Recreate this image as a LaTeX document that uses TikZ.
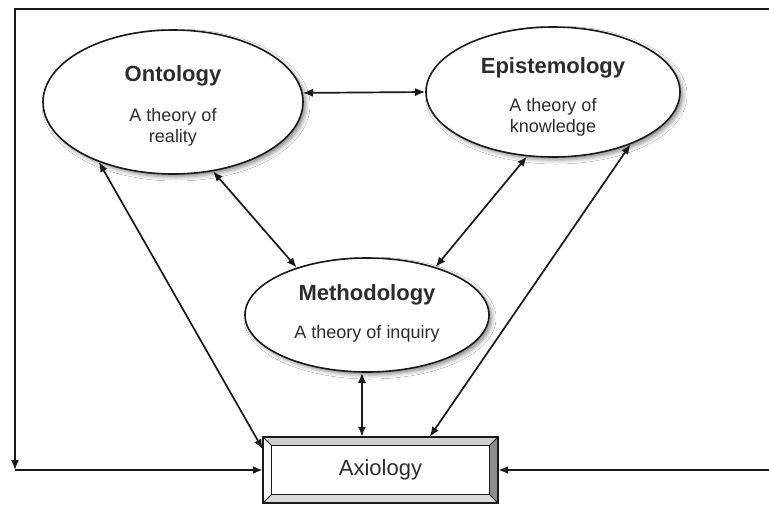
\documentclass[tikz,border=0pt]{standalone}
\usepackage{fontspec}
\setmainfont{Liberation Sans}
\usetikzlibrary{shapes.geometric,shadows.blur,arrows.meta,calc}
\definecolor{ink}{HTML}{1A1A1A}
\definecolor{txt}{HTML}{2C2C2C}
\definecolor{bevtop}{HTML}{CFCFCF}
\definecolor{bevbot}{HTML}{DADADA}
\definecolor{bevright}{HTML}{8E8E8E}
\begin{document}
\begin{tikzpicture}[x=1pt,y=-1pt,
  line/.style={draw=ink, line width=1.7pt},
  tip/.style={-{Latex[length=10pt,width=8pt]}},
  both/.style={{Latex[length=10pt,width=8pt]}-{Latex[length=10pt,width=8pt]}},
  oval/.style={ellipse, draw=ink, line width=1.6pt, fill=white, inner sep=0pt,
    blur shadow={shadow xshift=3pt, shadow yshift=-3pt, shadow blur radius=4pt, shadow opacity=45}},
  title/.style={font=\fontsize{22}{24}\selectfont\bfseries, text=txt, inner sep=0pt},
  sub/.style={font=\fontsize{18}{21}\selectfont, text=txt, align=center, inner sep=0pt},
  boxlabel/.style={font=\fontsize{22}{24}\selectfont, text=txt, inner sep=0pt}
]
\useasboundingbox (0,0) rectangle (769,507);
\fill[white] (0,0) rectangle (769,507);

% the three theories
\node[oval, minimum width=260pt, minimum height=144pt] (ont) at (173,102) {};
\node[title] (ontT) at (173,76) {Ontology};
\node[sub] (ontS) at (173,127) {A theory of\\reality};

\node[oval, minimum width=254pt, minimum height=130pt] (epi) at (553,92) {};
\node[title] (epiT) at (553,68) {Epistemology};
\node[sub] (epiS) at (553,117) {A theory of\\knowledge};

\node[oval, minimum width=244pt, minimum height=114pt] (meth) at (367,315) {};
\node[title] (methT) at (367,295) {Methodology};
\node[sub] (methS) at (367,334) {A theory of inquiry};

% bevelled Axiology box
\node[minimum width=235pt, minimum height=66pt, inner sep=0pt] (axi) at (380.5,470) {};
\coordinate (itl) at ($(axi.north west)+(9,9)$);
\coordinate (itr) at ($(axi.north east)+(-9,9)$);
\coordinate (ibr) at ($(axi.south east)+(-9,-9)$);
\coordinate (ibl) at ($(axi.south west)+(9,-9)$);
\fill[bevtop] (axi.north west) -- (axi.north east) -- (itr) -- (itl) -- cycle;
\fill[bevright] (axi.north east) -- (axi.south east) -- (ibr) -- (itr) -- cycle;
\fill[bevbot] (axi.south east) -- (axi.south west) -- (ibl) -- (ibr) -- cycle;
\fill[white] (axi.south west) -- (axi.north west) -- (itl) -- (ibl) -- cycle;
\draw[ink, line width=1pt] (axi.north west) -- (itl) (axi.north east) -- (itr)
  (axi.south east) -- (ibr) (axi.south west) -- (ibl);
\draw[ink, line width=1.3pt] (itl) rectangle (ibr);
\draw[ink, line width=2.2pt] (axi.north west) rectangle (axi.south east);
\node[boxlabel] (axiT) at (axi.center) {Axiology};

% links between the theories
\draw[line,both] (ont.4) -- (epi.180);
\draw[line,both] (ont.-60) -- (meth.146);
\draw[line,both] (epi.-112) -- (meth.35);
\draw[line,both] (ont.-141) -- (axi.170);
\draw[line,both] (epi.-34) -- (axi.34);
\draw[line,both] (meth.-95) -- (meth.-95 |- axi.north);

% outer feedback frame
\coordinate (tr) at (769,9);
\coordinate (tl) at (15,9);
\coordinate (bl) at (15,470);
\coordinate (br) at (769,470);
\draw[line,tip] (tr) -- (tl) -- (bl);
\draw[line,tip] (bl) -- (axi.west);
\draw[line,tip] (br) -- (axi.east);
\end{tikzpicture}
\end{document}
